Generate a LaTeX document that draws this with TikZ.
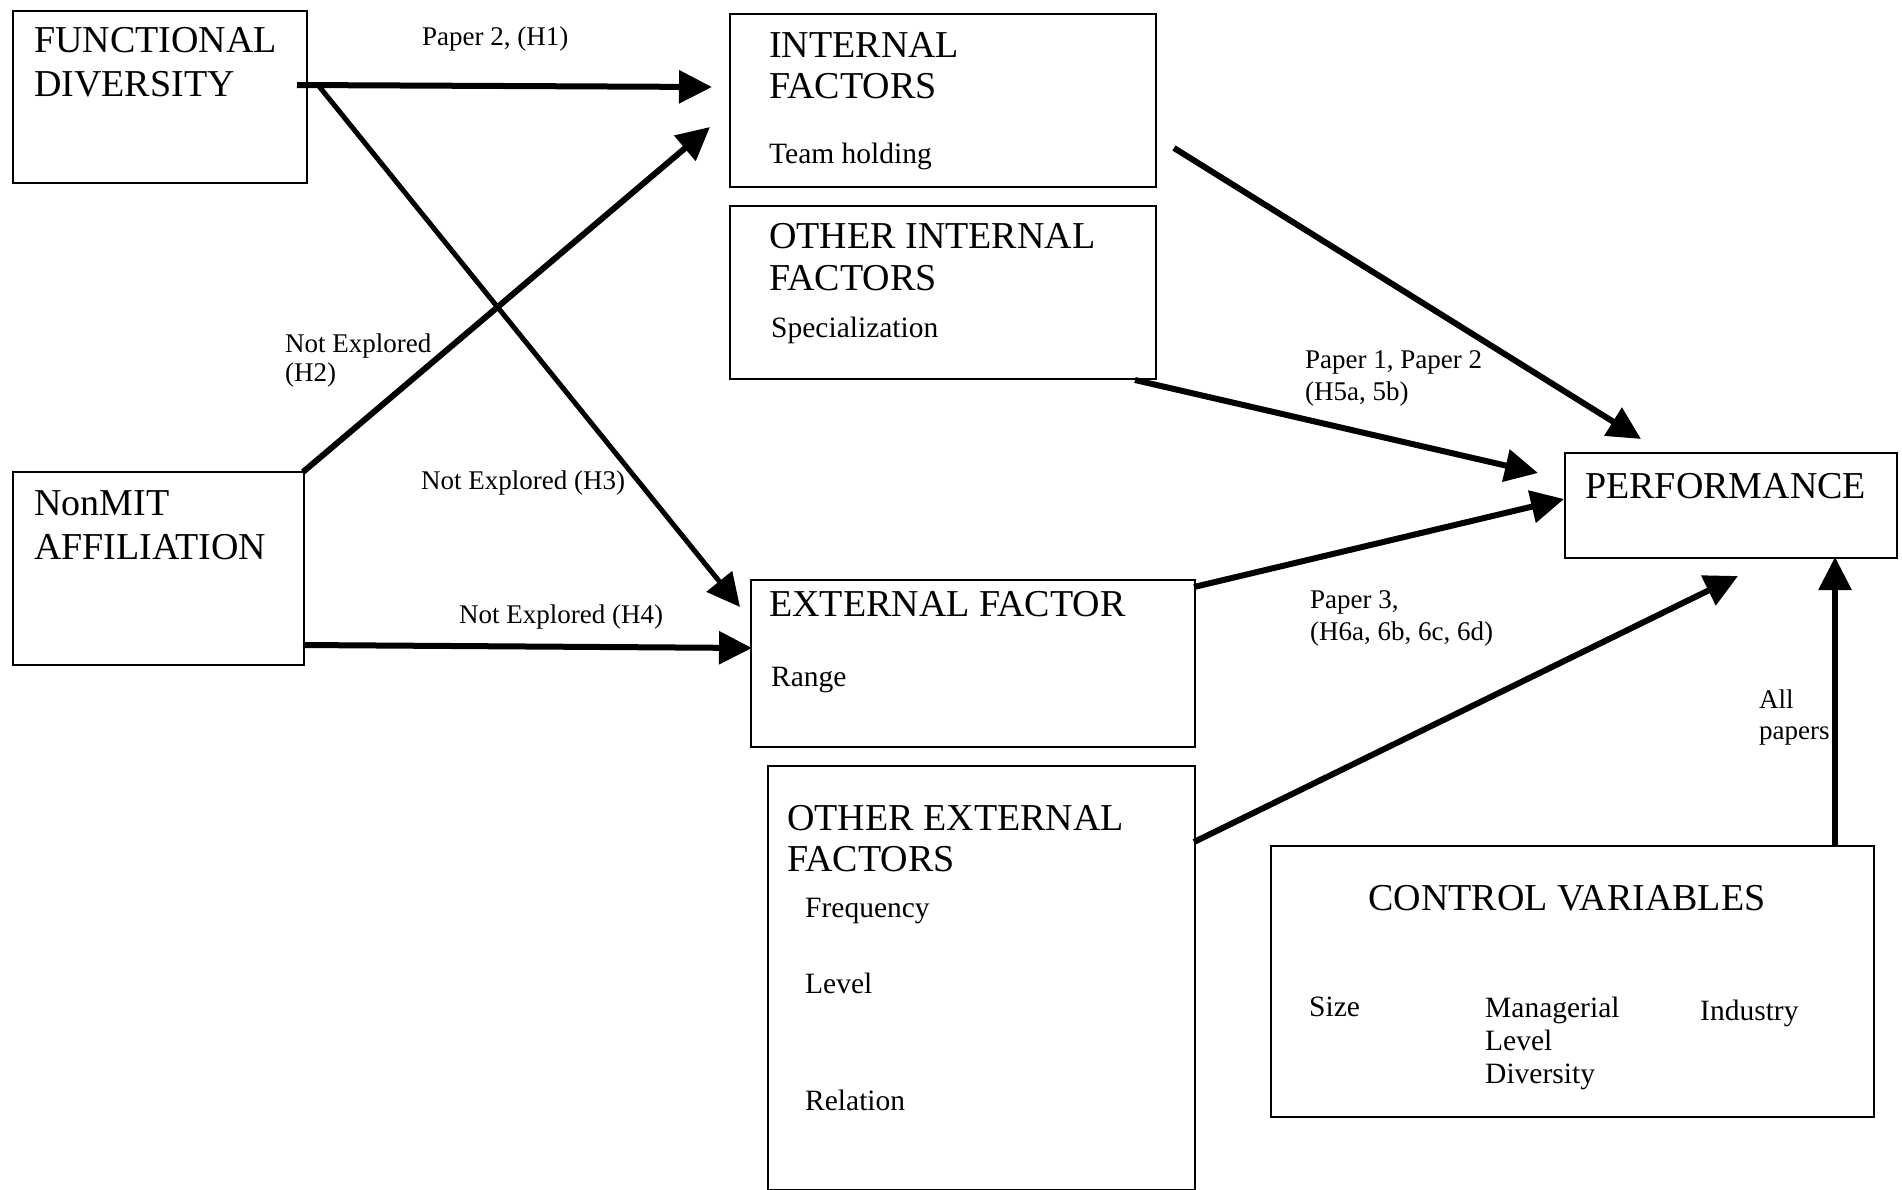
\documentclass[tikz,border=0pt]{standalone}
\usepackage{fontspec}
\setmainfont{Liberation Serif}
\usetikzlibrary{arrows.meta}
\begin{document}
\begin{tikzpicture}[x=1pt,y=1pt,
 box/.style={draw, line width=2.4pt, anchor=north west, inner sep=0pt},
 big/.style={anchor=base west, inner sep=0pt, font=\fontsize{38}{44}\selectfont},
 sub/.style={anchor=base west, inner sep=0pt, font=\fontsize{29.5}{33}\selectfont},
 lbl/.style={anchor=base west, inner sep=0pt, font=\fontsize{27}{31}\selectfont},
 arr/.style={line width=6pt, -{Triangle[length=33pt,width=32pt]}}]
\useasboundingbox (0,0) rectangle (1902,-1189);
% boxes
\node[box, minimum width=294, minimum height=172] (fd) at (12,-10) {};
\node[box, minimum width=291, minimum height=193] (nm) at (12,-471) {};
\node[box, minimum width=426, minimum height=173] (int) at (729,-13) {};
\node[box, minimum width=426, minimum height=173] (oint) at (729,-205) {};
\node[box, minimum width=444, minimum height=167] (ext) at (750,-579) {};
\node[box, minimum width=427, minimum height=424] (oext) at (767,-765) {};
\node[box, minimum width=332, minimum height=105] (perf) at (1564,-452) {};
\node[box, minimum width=603, minimum height=271] (cv) at (1270,-845) {};
% box texts
\node[big] (fd1) at (34,-52) {FUNCTIONAL};
\node[big] (fd2) at (34,-96) {DIVERSITY};
\node[big] (nm1) at (34,-515) {NonMIT};
\node[big] (nm2) at (34,-559) {AFFILIATION};
\node[big] (int1) at (769,-57) {INTERNAL};
\node[big] (int2) at (769,-98) {FACTORS};
\node[sub] (int3) at (769,-163) {Team holding};
\node[big] (oint1) at (769,-248) {OTHER INTERNAL};
\node[big] (oint2) at (769,-290) {FACTORS};
\node[sub] (oint3) at (771,-337) {Specialization};
\node[big] (ext1) at (769,-616) {EXTERNAL FACTOR};
\node[sub] (ext2) at (771,-686) {Range};
\node[big] (oext1) at (787,-830) {OTHER EXTERNAL};
\node[big] (oext2) at (787,-871) {FACTORS};
\node[sub] (oext3) at (805,-917) {Frequency};
\node[sub] (oext4) at (805,-993) {Level};
\node[sub] (oext5) at (805,-1110) {Relation};
\node[big] (perf1) at (1585,-498) {PERFORMANCE};
\node[big] (cv1) at (1368,-910) {CONTROL VARIABLES};
\node[sub] (cv2) at (1309,-1016) {Size};
\node[sub] (cv3) at (1485,-1017) {Managerial};
\node[sub] (cv4) at (1485,-1050) {Level};
\node[sub] (cv5) at (1485,-1083) {Diversity};
\node[sub] (cv6) at (1700,-1020) {Industry};
% connector labels
\node[lbl] (l1) at (422,-45) {Paper 2, (H1)};
\node[lbl] (l2a) at (285,-352) {Not Explored};
\node[lbl] (l2b) at (285,-381) {(H2)};
\node[lbl] (l3) at (421,-489) {Not Explored (H3)};
\node[lbl] (l4) at (459,-623) {Not Explored (H4)};
\node[lbl] (l5a) at (1305,-368) {Paper 1, Paper 2};
\node[lbl] (l5b) at (1305,-400) {(H5a, 5b)};
\node[lbl] (l6a) at (1310,-608) {Paper 3,};
\node[lbl] (l6b) at (1310,-640) {(H6a, 6b, 6c, 6d)};
\node[lbl] (l7a) at (1759,-708) {All};
\node[lbl] (l7b) at (1759,-739) {papers};
% connector end points
\coordinate (fdA) at (297,-85);
\coordinate (intA) at (712,-87);
\coordinate (fdB) at (318,-85);
\coordinate (extA) at (740,-607);
\coordinate (nmA) at (303,-472);
\coordinate (intB) at (710,-127);
\coordinate (nmB) at (303,-645);
\coordinate (extB) at (752,-648);
\coordinate (intC) at (1174,-148);
\coordinate (perfA) at (1641,-439);
\coordinate (ointA) at (1135,-380);
\coordinate (perfB) at (1538,-473);
\coordinate (extC) at (1194,-587);
\coordinate (perfC) at (1564,-499);
\coordinate (oextA) at (1194,-842);
\coordinate (perfD) at (1738,-576);
\coordinate (cvA) at (1835,-845);
\coordinate (perfE) at (1835,-557);
% connectors
\draw[arr] (fdA) -- (intA);
\draw[arr, line width=5pt] (fdB) -- (extA);
\draw[arr] (nmA) -- (intB);
\draw[arr] (nmB) -- (extB);
\draw[arr] (intC) -- (perfA);
\draw[arr] (ointA) -- (perfB);
\draw[arr] (extC) -- (perfC);
\draw[arr] (oextA) -- (perfD);
\draw[arr] (cvA) -- (perfE);
\end{tikzpicture}
\end{document}
